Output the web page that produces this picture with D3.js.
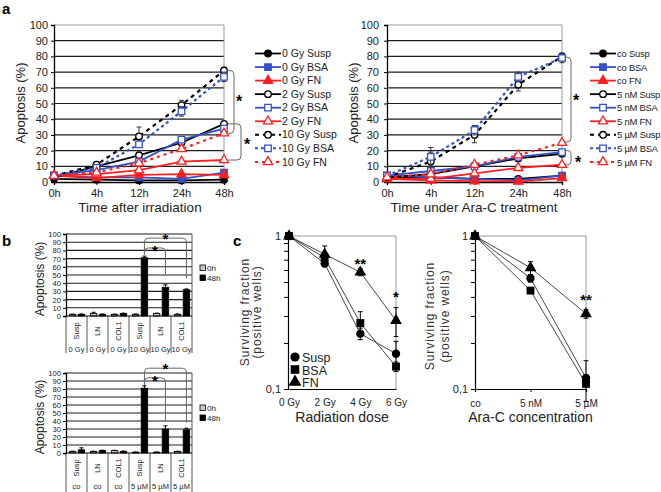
<!DOCTYPE html>
<html><head><meta charset="utf-8">
<script src="https://cdn.jsdelivr.net/npm/d3@7"></script>
<style>body{margin:0;background:#fff}svg{display:block}</style>
</head><body><svg id="c" width="661" height="492"></svg>
<script>
// ---------------- DATA ----------------
const timeCats = ["0h","4h","12h","24h","48h"];
const apoTicks = [0,10,20,30,40,50,60,70,80,90,100];

// panel a, left: time after irradiation
const irrNames = ["0 Gy Susp","0 Gy BSA","0 Gy FN","2 Gy Susp","2 Gy BSA","2 Gy FN","10 Gy Susp","10 Gy BSA","10 Gy FN"];
const irr0GySusp  = [2,1.5,1,1,1.5];
const irr0GyBSA   = [4,3,3,2,6];
const irr0GyFN    = [4,2.5,4.5,5,4.5];
const irr2GySusp  = [3,10,17,25,37];
const irr2GyBSA   = [4,7.5,13,27,34];
const irr2GyFN    = [4,5,7.5,13,14];
const irr10GySusp = [4,11,29,49,71];
const irr10GyBSA  = [4,9,24,45,67];
const irr10GyFN   = [4,6,12,21,31];
const irrErr10GySusp = [0.5,2,6,3,2];
const irrErr10GyBSA  = [0.5,2,2,3,3];
const irrErrSmall    = [0.5,1,1,1,1];

// panel a, right: time under Ara-C
const araNames = ["co Susp","co BSA","co FN","5 nM Susp","5 nM BSA","5 nM FN","5 µM Susp","5 µM BSA","5 µM FN"];
const araCoSusp  = [3,3,2,2,4];
const araCoBSA   = [4,3,2,1,4];
const araCoFN    = [2,1,0.5,0.3,2.5];
const ara5nMSusp = [3,5,10,15,18];
const ara5nMBSA  = [4,7,10,16,19];
const ara5nMFN   = [2,2,5.5,9,11];
const ara5uMSusp = [3,13,30,62,80];
const ara5uMBSA  = [4,16,33,67,79];
const ara5uMFN   = [3,5,11,17,25];
const araErr5uMSusp = [0.5,6,5,4,2];
const araErr5uMBSA  = [0.5,6,3,3,3];

// panel b
const bCats = ["Susp","LN","COL1","Susp","LN","COL1"];
const bTopDose = ["0 Gy","0 Gy","0 Gy","10 Gy","10 Gy","10 Gy"];
const bTop0h  = [2,3,2,2,3,2];
const bTop48h = [2,2,3,71,35,32];
const bTop0hErr  = [0.3,1.5,0.3,0.5,0.5,0.5];
const bTop48hErr = [0.5,0.5,0.5,2,3,1];
const bBotDose = ["co","co","co","5 µM","5 µM","5 µM"];
const bBot0h  = [2,2,3,1,1,2];
const bBot48h = [4,3,2,81,30,29];
const bBot0hErr  = [0.3,0.3,0.3,0.3,0.3,0.3];
const bBot48hErr = [2.5,0.5,0.5,3,4,2];
const bLegend = ["0h","48h"];

// panel c
const cGroups = ["Susp","BSA","FN"];
const doseVals = [0,2,4,6];
const doseLabels = ["0 Gy","2 Gy","4 Gy","6 Gy"];
const radSusp = [1,0.66,0.23,0.17];
const radBSA  = [1,0.72,0.27,0.14];
const radFN   = [1,0.76,0.58,0.28];
const radSuspErr = [0,0.03,0.02,0.035];
const radBSAErr  = [0,0.04,0.05,0.01];
const radFNErr   = [0,0.1,0.03,0.06];
const araConc = ["co","5 nM","5 µM"];
const concSusp = [1,0.53,0.118];
const concBSA  = [1,0.44,0.108];
const concFN   = [1,0.62,0.31];
const concSuspErr = [0,0.03,0.035];
const concBSAErr  = [0,0.02,0.004];
const concFNErr   = [0,0.06,0.02];
const logTicks = [0.1,0.2,0.3,0.4,0.5,0.6,0.7,0.8,0.9,1];

// ---------------- DRAW ----------------
const FONT = "'Liberation Sans', Arial, Helvetica, sans-serif";
const svg = d3.select("#c");
svg.append("rect").attr("width",661).attr("height",492).attr("fill","#fff");
const BLUE = "#3352c6", RED = "#ff1f1f";
const colors = ["#000", BLUE, RED];
const dashes = [null,null,null,null,null,null,"4,4","3,3","3,4"];
const symTypes = [d3.symbolCircle, d3.symbolSquare, d3.symbolTriangle];
const symSizes = [34, 42, 36];

function styleAxis(a, size){
  a.selectAll("text").attr("font-family",FONT).attr("font-size",size).attr("fill","#222");
  a.select(".domain").attr("stroke","#000").attr("stroke-width",1.3);
  a.selectAll(".tick line").attr("stroke","#000");
}
function bracket(g, xL, xR, y1, y2, r){
  g.append("path").attr("d",`M${xL},${y1} L${xR-r},${y1} Q${xR},${y1} ${xR},${y1+r} L${xR},${y2-r} Q${xR},${y2} ${xR-r},${y2} L${xL},${y2}`)
   .attr("fill","none").attr("stroke","#666").attr("stroke-width",1);
}
function star(g, x, y, s){
  g.append("text").attr("x",x).attr("y",y).attr("text-anchor","middle").attr("font-family",FONT)
   .attr("font-size",s||16).attr("font-weight","bold").attr("fill","#000").text("*");
}

function drawLinePanel(o){
  const g = svg.append("g");
  const x = d3.scalePoint().domain(timeCats).range([o.x0,o.x1]);
  const y = d3.scaleLinear().domain([0,100]).range([182,25]);
  g.selectAll("line.grid").data(apoTicks.slice(1,-1)).join("line")
   .attr("x1",o.x0).attr("x2",o.x1).attr("y1",d=>y(d)).attr("y2",d=>y(d))
   .attr("stroke","#1c1c1c").attr("stroke-width",1.2);
  g.append("line").attr("x1",o.x0).attr("x2",o.x1).attr("y1",y(100)).attr("y2",y(100)).attr("stroke","#999");
  g.append("line").attr("x1",o.x1).attr("x2",o.x1).attr("y1",y(100)).attr("y2",y(0)).attr("stroke","#999");
  const ya = g.append("g").attr("transform",`translate(${o.x0},0)`)
    .call(d3.axisLeft(y).tickValues(apoTicks).tickSize(3).tickPadding(o.yPad));
  const xa = g.append("g").attr("transform",`translate(0,${y(0)})`)
    .call(d3.axisBottom(x).tickSize(3).tickPadding(4));
  styleAxis(ya,11); styleAxis(xa,11);
  g.append("text").attr("transform",`translate(${o.ytx},103) rotate(-90)`).attr("text-anchor","middle")
   .attr("font-family",FONT).attr("font-size",13).attr("fill","#222").text("Apoptosis (%)");
  g.append("text").attr("x",o.xtx).attr("y",212).attr("text-anchor","middle")
   .attr("font-family",FONT).attr("font-size",13.5).attr("fill","#222").text(o.xTitle);
  const line = d3.line().x((d,i)=>x(timeCats[i])).y(d=>y(d));
  o.values.forEach((vals,i)=>{
    const col = colors[i%3];
    g.append("path").attr("d",line(vals)).attr("fill","none").attr("stroke",col)
     .attr("stroke-width",i<6?1.8:2.2).attr("stroke-dasharray",dashes[i]);
  });
  o.values.forEach((vals,i)=>{
    const col = colors[i%3];
    const err = o.errors[i];
    vals.forEach((v,j)=>{
      const cx = x(timeCats[j]);
      if (err[j] > 1){
        g.append("line").attr("x1",cx).attr("x2",cx).attr("y1",y(v-err[j])).attr("y2",y(v+err[j])).attr("stroke","#333");
        [v-err[j],v+err[j]].forEach(e=>g.append("line").attr("x1",cx-2.5).attr("x2",cx+2.5).attr("y1",y(e)).attr("y2",y(e)).attr("stroke","#333"));
      }
      g.append("path").attr("transform",`translate(${cx},${y(v)})`)
       .attr("d",d3.symbol().type(symTypes[i%3]).size(symSizes[i%3])())
       .attr("fill",i<3?col:"#fff").attr("stroke",col).attr("stroke-width",1.3);
    });
  });
  // legend
  o.names.forEach((n,i)=>{
    const ly = 53.5 + i*13.55, col = colors[i%3];
    g.append("line").attr("x1",o.lx).attr("x2",o.lx+26).attr("y1",ly).attr("y2",ly)
     .attr("stroke",col).attr("stroke-width",i<6?1.8:2).attr("stroke-dasharray",dashes[i]);
    g.append("path").attr("transform",`translate(${o.lx+13},${ly})`)
     .attr("d",d3.symbol().type(symTypes[i%3]).size(symSizes[i%3])())
     .attr("fill",i<3?col:"#fff").attr("stroke",col).attr("stroke-width",1.3);
    g.append("text").attr("x",o.lx+27).attr("y",ly+3.6).attr("font-family",FONT).attr("font-size",o.lfs)
     .attr("letter-spacing",o.lls).attr("fill","#222").text(n);
  });
  return {g,x,y};
}

// a left
const aL = drawLinePanel({x0:54,x1:224,yPad:3,ytx:25,xtx:140,xTitle:"Time after irradiation",lx:255,lfs:10.5,lls:0,
  names:irrNames,
  values:[irr0GySusp,irr0GyBSA,irr0GyFN,irr2GySusp,irr2GyBSA,irr2GyFN,irr10GySusp,irr10GyBSA,irr10GyFN],
  errors:[irrErrSmall,irrErrSmall,irrErrSmall,irrErrSmall,irrErrSmall,irrErrSmall,irrErr10GySusp,irrErr10GyBSA,irrErrSmall]});
bracket(aL.g, 227, 234, aL.y(71), aL.y(31), 4);
star(aL.g, 239, 107);
bracket(aL.g, 228, 241, aL.y(37), aL.y(14), 4);
star(aL.g, 247, 150);

// a right
const aR = drawLinePanel({x0:387,x1:562,yPad:5,ytx:358,xtx:474,xTitle:"Time under Ara-C treatment",lx:590,lfs:9.4,lls:-0.2,
  names:araNames,
  values:[araCoSusp,araCoBSA,araCoFN,ara5nMSusp,ara5nMBSA,ara5nMFN,ara5uMSusp,ara5uMBSA,ara5uMFN],
  errors:[irrErrSmall,irrErrSmall,irrErrSmall,irrErrSmall,irrErrSmall,irrErrSmall,araErr5uMSusp,araErr5uMBSA,irrErrSmall]});
bracket(aR.g, 565, 571, aR.y(79.5), aR.y(25.5), 4);
star(aR.g, 576, 106);
bracket(aR.g, 565, 571, aR.y(20), aR.y(11), 3);
star(aR.g, 578, 168);

// panel labels
[["a",2,14],["b",2,246],["c",233,246]].forEach(([t,x,y])=>
  svg.append("text").attr("x",x).attr("y",y).attr("font-family",FONT).attr("font-size",15).attr("font-weight","bold").text(t));

// ---- panel b ----
function drawBarPanel(o){
  const g = svg.append("g");
  const x = d3.scaleBand().domain(d3.range(bCats.length)).range([66,192]);
  const y = d3.scaleLinear().domain([0,100]).range([o.yBot,o.yTop]);
  const bw = x.bandwidth();
  g.selectAll("line.grid").data(apoTicks.slice(1)).join("line")
   .attr("x1",66).attr("x2",192).attr("y1",d=>y(d)).attr("y2",d=>y(d)).attr("stroke","#1c1c1c").attr("stroke-width",1.1);
  g.append("line").attr("x1",192).attr("x2",192).attr("y1",y(100)).attr("y2",o.tableBot).attr("stroke","#555");
  d3.range(bCats.length).forEach(i=>{
    g.append("line").attr("x1",x(i)).attr("x2",x(i)).attr("y1",y(0)).attr("y2",o.tableBot).attr("stroke","#555");
  });
  const bars = [[o.v0,o.e0,"#c8c8c8",0.16],[o.v48,o.e48,"#000",0.58]];
  bars.forEach(([vals,errs,fill,off])=>{
    vals.forEach((v,i)=>{
      const bx = x(i)+bw*off, w = bw*0.31, cx = bx+w/2;
      g.append("rect").attr("x",bx).attr("y",y(v)).attr("width",w).attr("height",y(0)-y(v))
       .attr("fill",fill).attr("stroke","#000").attr("stroke-width",0.8);
      g.append("line").attr("x1",cx).attr("x2",cx).attr("y1",y(v)).attr("y2",y(v+errs[i])).attr("stroke","#000");
      g.append("line").attr("x1",cx-2).attr("x2",cx+2).attr("y1",y(v+errs[i])).attr("y2",y(v+errs[i])).attr("stroke","#000");
    });
  });
  const ya = g.append("g").attr("transform","translate(66,0)").call(d3.axisLeft(y).tickValues(apoTicks).tickSize(3).tickPadding(2));
  styleAxis(ya,7.6);
  g.append("line").attr("x1",66).attr("x2",192).attr("y1",y(0)).attr("y2",y(0)).attr("stroke","#000").attr("stroke-width",1.2);
  bCats.forEach((c,i)=>{
    const cx = x(i)+bw/2;
    g.append("text").attr("transform",`translate(${cx+2.5},${o.yBot+15}) rotate(-90)`).attr("text-anchor","middle")
     .attr("font-family",FONT).attr("font-size",7.5).attr("fill","#222").text(c);
    g.append("text").attr("x",cx).attr("y",o.yBot+36).attr("text-anchor","middle")
     .attr("font-family",FONT).attr("font-size",7.5).attr("fill","#222").text(o.dose[i]);
  });
  g.append("text").attr("transform",`translate(${44},${(o.yTop+o.yBot)/2+4}) rotate(-90)`).attr("text-anchor","middle")
   .attr("font-family",FONT).attr("font-size",12).attr("fill","#222").text("Apoptosis (%)");
  // legend
  bLegend.forEach((t,i)=>{
    const ly = o.legY + i*10;
    g.append("rect").attr("x",200).attr("y",ly-3).attr("width",5.5).attr("height",5.5)
     .attr("fill",i?"#000":"#c8c8c8").attr("stroke","#000").attr("stroke-width",0.8);
    g.append("text").attr("x",207).attr("y",ly+3).attr("font-family",FONT).attr("font-size",8).attr("fill","#222").text(t);
  });
  // significance brackets
  const sx = x(3)+bw*0.58+bw*0.155;
  const lnx = x(4)+bw*0.58+bw*0.155, colx = x(5)+bw*0.58+bw*0.155;
  const path = (xa,ya1,yt,xb,yb)=>`M${xa},${ya1} L${xa},${yt+4} Q${xa},${yt} ${xa+4},${yt} L${xb-4},${yt} Q${xb},${yt} ${xb},${yt+4} L${xb},${yb}`;
  g.append("path").attr("d",path(sx,y(o.v48[3]+4),y(o.inTop),lnx,y(o.inEnd))).attr("fill","none").attr("stroke","#666");
  g.append("path").attr("d",path(sx,y(o.v48[3]+4),y(o.outTop),colx,y(o.outEnd))).attr("fill","none").attr("stroke","#666");
  star(g,(sx+lnx)/2,y(o.inTop)+8,15);
  star(g,(sx+colx)/2,y(o.outTop)+6,15);
}
drawBarPanel({yTop:234,yBot:316,tableBot:353,v0:bTop0h,v48:bTop48h,e0:bTop0hErr,e48:bTop48hErr,dose:bTopDose,legY:268,
  inTop:83,inEnd:51,outTop:95,outEnd:46});
drawBarPanel({yTop:373,yBot:453,tableBot:492,v0:bBot0h,v48:bBot48h,e0:bBot0hErr,e48:bBot48hErr,dose:bBotDose,legY:408,
  inTop:94,inEnd:40,outTop:106,outEnd:38});

// ---- panel c ----
const cSym = [d3.symbolCircle, d3.symbolSquare, d3.symbolTriangle];
const cSize = [55, 62, 60];
function drawSurvPanel(o){
  const g = svg.append("g");
  const y = d3.scaleLog().domain([0.1,1]).range([389,236]);
  g.append("line").attr("x1",o.x0).attr("x2",o.x1).attr("y1",236).attr("y2",236).attr("stroke","#999");
  g.append("line").attr("x1",o.x1).attr("x2",o.x1).attr("y1",236).attr("y2",389).attr("stroke","#999");
  const ya = g.append("g").attr("transform",`translate(${o.x0},0)`)
    .call(d3.axisLeft(y).tickValues(logTicks).tickSize(4).tickPadding(3).tickFormat(d=>d===1?"1":(d===0.1?"0,1":"")));
  const xa = g.append("g").attr("transform","translate(0,389)").call(o.xAxis);
  styleAxis(ya,11); styleAxis(xa,10);
  ya.select(".domain").attr("stroke-width",1.2); xa.select(".domain").attr("stroke-width",1.2);
  const line = d3.line().x((d,i)=>o.px(i)).y(d=>y(d));
  o.series.forEach((s)=>g.append("path").attr("d",line(s)).attr("fill","none").attr("stroke","#333").attr("stroke-width",0.9));
  o.series.forEach((s,k)=>{
    s.forEach((v,i)=>{
      const e = o.errs[k][i], cx = o.px(i);
      if (e>0){
        g.append("line").attr("x1",cx).attr("x2",cx).attr("y1",y(v-e)).attr("y2",y(v+e)).attr("stroke","#000");
        [v-e,v+e].forEach(b=>g.append("line").attr("x1",cx-2.5).attr("x2",cx+2.5).attr("y1",y(b)).attr("y2",y(b)).attr("stroke","#000"));
      }
      g.append("path").attr("transform",`translate(${cx},${y(v)})`).attr("d",d3.symbol().type(cSym[k]).size(cSize[k])()).attr("fill","#000");
    });
  });
  g.append("text").attr("x",(o.x0+o.x1)/2).attr("y",422).attr("text-anchor","middle").attr("font-family",FONT)
   .attr("font-size",14).attr("fill","#222").text(o.xTitle);
  [["Surviving fraction",o.t1x],["(positive wells)",o.t2x]].forEach(([t,tx])=>
    g.append("text").attr("transform",`translate(${tx},${o.tcy}) rotate(-90)`).attr("text-anchor","middle")
     .attr("font-family",FONT).attr("font-size",12).attr("letter-spacing",0.9).attr("fill","#333").text(t));
  o.stars.forEach(([t,i,v])=>g.append("text").attr("x",o.px(i)).attr("y",y(v)).attr("text-anchor","middle")
     .attr("font-family",FONT).attr("font-size",15).attr("font-weight","bold").text(t));
  return g;
}
const xRad = d3.scaleLinear().domain([0,6]).range([289,396]);
const gC1 = drawSurvPanel({x0:288,x1:396,px:i=>xRad(doseVals[i]),
  xAxis:d3.axisBottom(xRad).tickValues(doseVals).tickFormat((d,i)=>doseLabels[i]).tickSize(0).tickPadding(10),
  series:[radSusp,radBSA,radFN],errs:[radSuspErr,radBSAErr,radFNErr],xTitle:"Radiation dose",
  t1x:249,t2x:261,tcy:312,stars:[["**",2,0.61],["*",3,0.37]]});
cGroups.forEach((n,k)=>{
  const ly = 357 + k*12.5;
  gC1.append("path").attr("transform",`translate(295,${ly})`).attr("d",d3.symbol().type(cSym[k]).size(cSize[k]+12)()).attr("fill","#000");
  gC1.append("text").attr("x",302).attr("y",ly+5).attr("font-family",FONT).attr("font-size",12.5).attr("fill","#222").text(n);
});
const xConc = d3.scalePoint().domain(araConc).range([475,586]);
drawSurvPanel({x0:475,x1:586,px:i=>xConc(araConc[i]),
  xAxis:d3.axisBottom(xConc).tickSize(3).tickPadding(8),
  series:[concSusp,concBSA,concFN],errs:[concSuspErr,concBSAErr,concFNErr],xTitle:"Ara-C concentration",
  t1x:434,t2x:449,tcy:316,stars:[["**",2,0.355]]});
</script></body></html>
